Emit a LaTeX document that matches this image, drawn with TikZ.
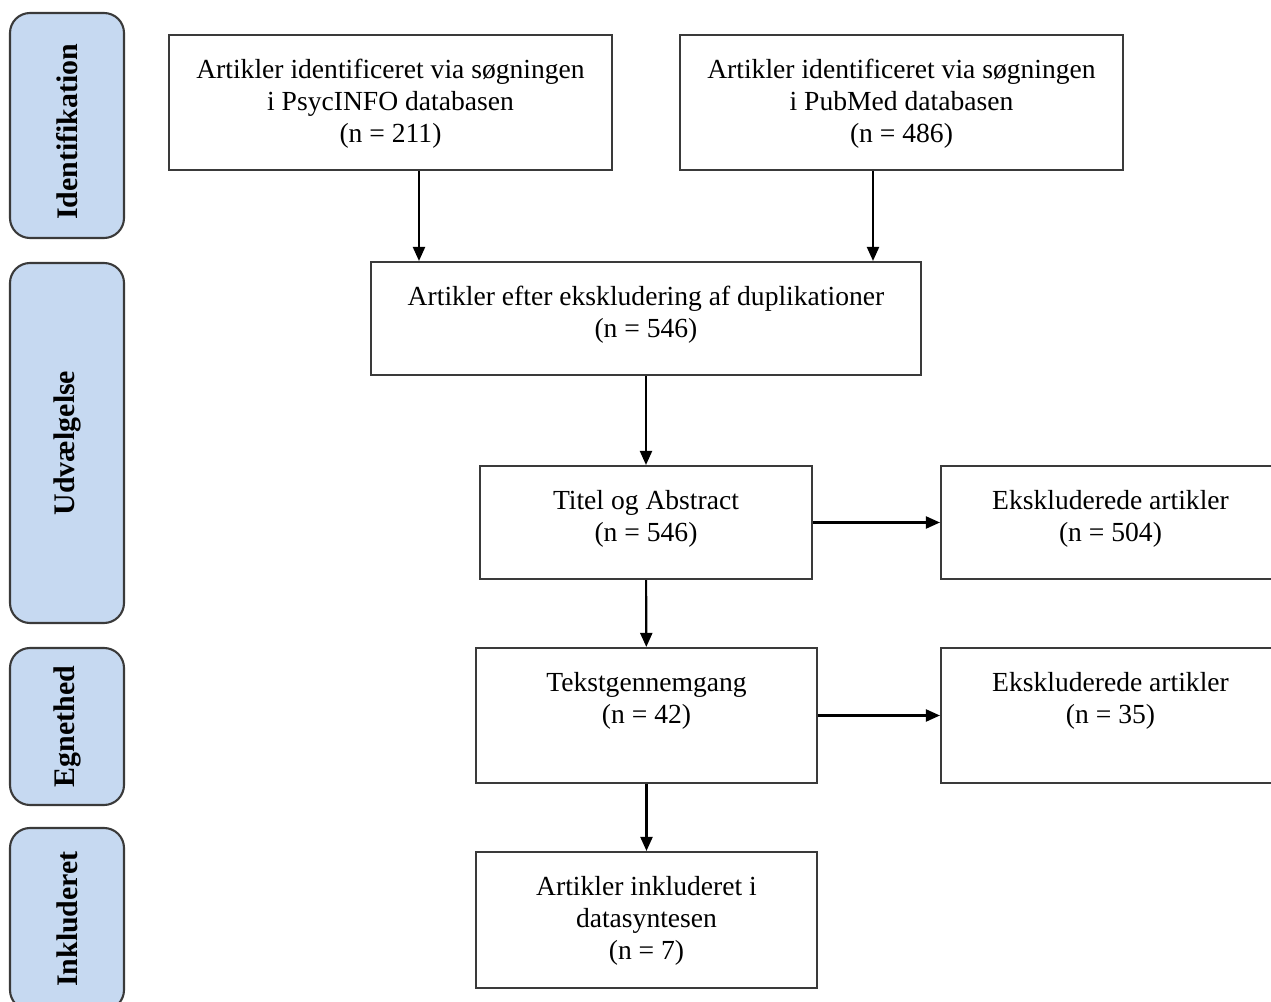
\documentclass[tikz,border=0pt]{standalone}
\usepackage{fontspec}
\setmainfont{Liberation Serif}
\usepackage{xcolor}
\usepackage{tikz}
\usetikzlibrary{arrows.meta,positioning,calc}
\definecolor{phasefill}{HTML}{C6D9F1}
\definecolor{boxline}{HTML}{3A3A3A}
\begin{document}
\begin{tikzpicture}[
    box/.style={draw=boxline, line width=1.2pt, rectangle, inner sep=0},
    txt/.style={anchor=north, align=center, inner sep=0, font=\fontsize{15.7}{18.2}\selectfont},
    phase/.style={draw=boxline, line width=1.2pt, fill=phasefill, rounded corners=0.4cm, rotate=90,
                  minimum height=2.28cm, inner sep=0, font=\fontsize{17}{20}\selectfont\bfseries},
    arr/.style={-{Triangle[length=0.28cm,width=0.24cm]}, line width=1.2pt, black}
  ]
    \useasboundingbox (0,0) rectangle (25.42,20.02);
    \clip (0,0) rectangle (25.42,20.02);

    % Phases
    \node[phase, minimum width=4.50cm] (ident) at (1.34,17.51) {Identifikation\hspace*{0.26cm}};
    \node[phase, minimum width=7.20cm] (udv) at (1.34,11.16) {Udvælgelse};
    \node[phase, minimum width=3.14cm] (egn) at (1.34,5.49) {Egnethed};
    \node[phase, minimum width=3.64cm] (inkl) at (1.34,1.64) {Inkluderet};

    % Identifikation
    \node[box, minimum width=8.86cm, minimum height=2.70cm] (psyc) at (7.81,17.97) {};
    \node[txt] (psyctxt) at ([yshift=-0.50cm]psyc.north) {Artikler identificeret via søgningen\\ i PsycINFO databasen\\ (n = 211)};
    \node[box, minimum width=8.86cm, minimum height=2.70cm] (pubmed) at (18.03,17.97) {};
    \node[txt] (pubmedtxt) at ([yshift=-0.50cm]pubmed.north) {Artikler identificeret via søgningen\\ i PubMed databasen\\ (n = 486)};

    % Udvaelgelse
    \node[box, minimum width=11.0cm, minimum height=2.26cm] (dup) at (12.92,13.65) {};
    \node[txt] (duptxt) at ([yshift=-0.50cm]dup.north) {Artikler efter ekskludering af duplikationer\\ (n = 546)};
    \node[box, minimum width=6.64cm, minimum height=2.26cm] (titel) at (12.92,9.57) {};
    \node[txt] (titeltxt) at ([yshift=-0.50cm]titel.north) {Titel og Abstract\\ (n = 546)};
    \node[box, minimum width=6.78cm, minimum height=2.26cm] (eks1) at (22.21,9.57) {};
    \node[txt] (eks1txt) at ([yshift=-0.50cm]eks1.north) {Ekskluderede artikler\\ (n = 504)};

    % Egnethed
    \node[box, minimum width=6.82cm, minimum height=2.70cm] (tekst) at (12.93,5.71) {};
    \node[txt] (teksttxt) at ([yshift=-0.50cm]tekst.north) {Tekstgennemgang\\ (n = 42)};
    \node[box, minimum width=6.78cm, minimum height=2.70cm] (eks2) at (22.21,5.71) {};
    \node[txt] (eks2txt) at ([yshift=-0.50cm]eks2.north) {Ekskluderede artikler\\ (n = 35)};

    % Inkluderet
    \node[box, minimum width=6.82cm, minimum height=2.72cm] (inkbox) at (12.93,1.62) {};
    \node[txt] (inkboxtxt) at ([yshift=-0.50cm]inkbox.north) {Artikler inkluderet i\\ datasyntesen\\ (n = 7)};

    % Arrows
    \draw[arr] ([xshift=0.57cm]psyc.south) -- ([xshift=0.57cm]psyc.south |- dup.north);
    \draw[arr] ([xshift=-0.57cm]pubmed.south) -- ([xshift=-0.57cm]pubmed.south |- dup.north);
    \draw[arr] (dup) -- (titel);
    \draw[arr] (titel) -- (eks1);
    \draw[arr] (titel) -- (tekst);
    \draw[arr] (tekst) -- (eks2);
    \draw[arr] (tekst) -- (inkbox);
\end{tikzpicture}
\end{document}
